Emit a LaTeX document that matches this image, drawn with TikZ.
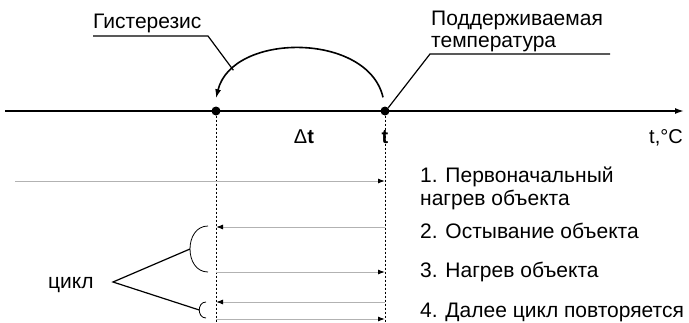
\documentclass[tikz,border=0pt]{standalone}
\usepackage{fontspec}
\setmainfont{Liberation Sans}
\usetikzlibrary{arrows.meta}
\tikzset{
    >={Latex[length=9pt,width=6pt]}, % tip of the axis and of the hysteresis arc
    }

\begin{document}
\begin{tikzpicture}[x=1pt, y=-1pt,
dotnode/.style={circle, fill=black, inner sep=0pt, minimum size=9pt},
lbl/.style={inner sep=0pt, anchor=base west, align=left, font=\fontsize{21}{22}\selectfont},
item/.style={inner sep=0pt, anchor=base west, align=left, font=\fontsize{21}{23}\selectfont},
axislbl/.style={inner sep=0pt, anchor=base, font=\fontsize{20}{22}\selectfont},
flow/.style={gray!60, line width=1pt, -{Latex[black, length=7pt, width=5pt]}},
guide/.style={dash pattern=on 2pt off 2pt, line width=0.8pt},
]
\useasboundingbox (0,0) rectangle (689,322);

% axis
\coordinate (ax0) at (5,111);
\coordinate (ax1) at (684,111);
\draw[line width=1.6pt,->] (ax0) -- (ax1);
\node[dotnode] (tlow) at (216,111) {};
\node[dotnode] (tset) at (385,111) {};
\node[axislbl] (dlt) at (304,143) {Δ\textbf{t}};
\node[axislbl] (tlbl) at (385,143) {\textbf{t}};
\node[axislbl, anchor=base east] (unit) at (683,143) {t,°C};

% hysteresis
\draw[line width=1.6pt,->] ([xshift=-2pt,yshift=9pt]tset.north) .. controls (368,32) and (232,32) .. ([yshift=8pt]tlow.north) coordinate[pos=0.83] (hyst);
\node[lbl] (hystlbl) at (93,28) {Гистерезис};
\coordinate (hystbar) at (208,36);
\draw[line width=1.2pt] (hystlbl.base west |- hystbar) -- (hystbar) -- (hyst);
\node[lbl] (setlbl) at (431,47) {Поддерживаемая\\температура};
\coordinate (setbar) at (430,54);
\draw[line width=1.2pt] (tset.north east) -- (setbar) -- (610,54);

% guides
\coordinate (bottom) at (0,322);
\draw[guide] (tlow.south) -- (tlow |- bottom);
\draw[guide] (tset.south) -- (tset |- bottom);

% flows
\coordinate (r1) at (15,181);
\coordinate (r2) at (0,227);
\coordinate (r3) at (0,272);
\coordinate (r4) at (0,302);
\coordinate (r5) at (0,319);
\draw[flow] (r1) -- (r1 -| tset);
\draw[flow] (tset |- r2) -- (tlow |- r2);
\draw[flow] (tlow |- r3) -- (tset |- r3);
\draw[flow] (tset |- r4) -- (tlow |- r4);
\draw[flow] (tlow |- r5) -- (tset |- r5);

% cycle
\draw[line width=0.8pt] (208,226) .. controls (184,226) and (184,272) .. (208,272) coordinate[pos=0.5] (loop1);
\draw[line width=0.8pt] (206,302) .. controls (197,302) and (197,318) .. (206,318) coordinate[pos=0.5] (loop2);
\node[item] (cyclbl) at (48,288) {цикл};
\coordinate (cyc) at (113,282);
\draw[line width=1.2pt] (loop1) -- (cyc) -- (loop2);

% steps
\node[item] (step1) at (420,205) {1. Первоначальный\\нагрев объекта};
\node[item] (step2) at (420,238) {2. Остывание объекта};
\node[item] (step3) at (420,277) {3. Нагрев объекта};
\node[item] (step4) at (420,317) {4. Далее цикл повторяется};
\end{tikzpicture}
\end{document}
